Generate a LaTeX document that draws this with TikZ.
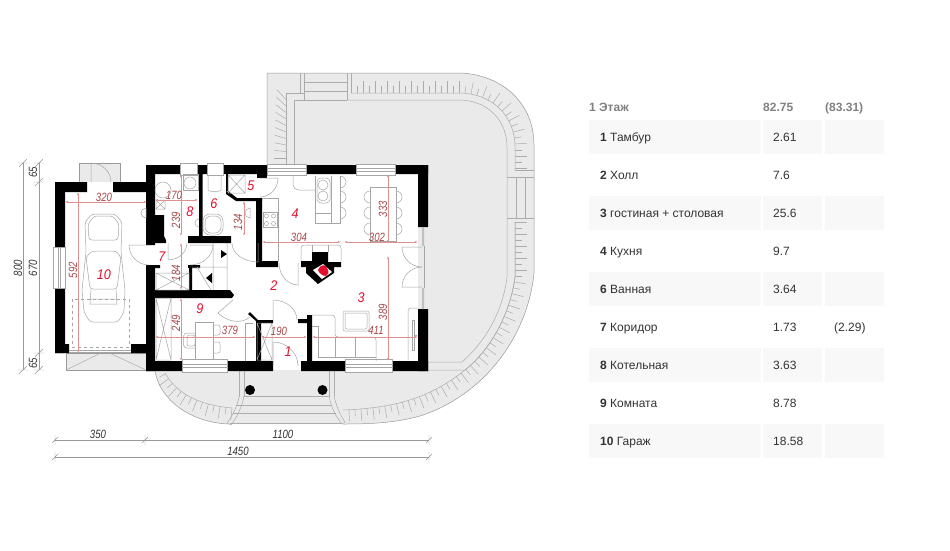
\documentclass[tikz,border=0pt]{standalone}
\usepackage{fontspec}
\setmainfont{Liberation Sans}
\usetikzlibrary{calc,arrows.meta,decorations.markings}
\definecolor{terracegray}{HTML}{EAEAEA}
\definecolor{rowgray}{HTML}{F8F8F8}
\definecolor{headgray}{HTML}{808080}
\definecolor{textdark}{HTML}{333333}
\definecolor{roomred}{HTML}{E2102E}
\definecolor{dimred}{HTML}{A84848}
\definecolor{dimline}{HTML}{E09090}
\tikzset{
    wall/.style={fill=black,draw=none},
    terrace/.style={fill=terracegray,draw=gray!80,line width=.5pt},
    stairline/.style={draw=gray!65,line width=.5pt},
    furn/.style={draw=gray!70,line width=.5pt},
    doorline/.style={draw=gray!70,line width=.5pt},
    dimgray/.style={draw=gray!80,line width=.4pt},
    dimredline/.style={draw=dimline,line width=.5pt,{Latex[length=3pt,width=2pt]}-{Latex[length=3pt,width=2pt]}},
    roomnum/.style={font=\fontsize{14}{16}\selectfont\itshape,text=roomred,xscale=.9,inner sep=0pt},
    dimlabel/.style={font=\fontsize{12}{14}\selectfont\itshape,text=dimred,xscale=.8,inner sep=0pt},
    outerlabel/.style={font=\fontsize{12}{14}\selectfont\itshape,text=textdark,xscale=.8,inner sep=0pt},
    rowtext/.style={font=\fontsize{12}{14}\selectfont,text=textdark,anchor=base west,inner sep=0pt},
    headtext/.style={font=\fontsize{12}{14}\selectfont\bfseries,text=headgray,anchor=base west,inner sep=0pt},
    rowbox/.style={fill=rowgray,draw=none},
    treads/.style={postaction={decorate},decoration={markings,
        mark=between positions 0 and 1 step 6pt with {
            \pgfmathsetmacro\treadlen{isodd(\pgfkeysvalueof{/pgf/decoration/mark info/sequence number})?12:7}
            \draw[stairline] (0pt,0pt)--(0pt,\treadlen pt);}}},
}
% door: hinge, open end, closed end
\newcommand{\door}[3]{\draw[doorline] (#1)--(#2) .. controls ($(#2)+.55*(#3)-.55*(#1)$) and ($(#3)+.55*(#2)-.55*(#1)$) .. (#3);}
\begin{document}
\begin{tikzpicture}[x=1pt,y=-1pt]
    \useasboundingbox (0,0) rectangle (950,550);
    % terrace
    \fill[terracegray] (267,73)--(462,73) .. controls (505,76) and (534,105) .. (534,145)--(534,273)
        .. controls (528,335) and (485,395) .. (420,416) .. controls (395,423) and (370,424) .. (343,424)
        --(228,424) .. controls (190,422) and (160,400) .. (155,371)--(155,300)--(267,300)--cycle;
    \draw[terrace,fill=none] (267,165)--(267,73)--(462,73) .. controls (505,76) and (534,105) .. (534,145)--(534,273)
        .. controls (528,335) and (485,395) .. (420,416) .. controls (395,423) and (370,424) .. (343,424);
    \draw[terrace,fill=none] (155,371) .. controls (160,400) and (190,422) .. (228,424);
    \draw[stairline] (294,165)--(294,100)--(347,100);
    \draw[stairline] (286,165)--(286,93)--(304,93);
    \draw[stairline] (300,73)--(300,93) (304,73)--(304,100) (347,73)--(347,100) (351,73)--(351,93);
    \draw[stairline] (304,82)--(347,82) (304,91)--(347,91);
    \draw[stairline] (347,100)--(462,100) .. controls (490,102) and (507,122) .. (507,147)--(507,277)
        .. controls (503,310) and (487,340) .. (462,362)--(428,362);
    \draw[stairline] (428,370)--(465,370) .. controls (490,350) and (510,315) .. (515,277)--(515,222);
    \draw[stairline] (507,177)--(534,177) (507,218)--(534,218) (516.5,177)--(516.5,218) (525.5,177)--(525.5,218);
    \draw[stairline] (515,170)--(534,170);
    \draw[stairline,treads] (351,93)--(462,93) .. controls (495,95) and (515,118) .. (515,147)--(515,170);
    \draw[stairline,treads] (515,222)--(515,277) .. controls (510,315) and (490,350) .. (465,370)
        .. controls (430,398) and (395,408) .. (343,410);
    \draw[stairline,treads] (232,408) .. controls (200,405) and (178,395) .. (165,373);
    \foreach \i in {0,...,9}
        \draw[stairline] (286,{158-6.5*\i})--({286-12+\i*.3},{158-6.5*\i-\i*1.1});
    % front steps
    \draw[stairline] (239,371)--(239,397) (244,371)--(244,396) (329,371)--(329,397) (334,371)--(334,396);
    \draw[stairline] (244,396)--(329,396) (236,405)--(332,405) (233,413)--(336,413) (230,423)--(341,423);
    \draw[stairline] (239,397) .. controls (237,407) and (232,417) .. (227,423)--(231,425) .. controls (237,417) and (242,407) .. (244,396);
    \draw[stairline] (329,396) .. controls (331,407) and (336,417) .. (342,424)--(345,422) .. controls (340,415) and (336,405) .. (334,396);
    \fill[black] (250,390) circle (5pt) (322.5,390) circle (5pt);
    % garage porch and entry
    \filldraw[terrace] (66,353) rectangle (146,370);
    \draw[stairline] (66,370)--(105,351)--(146,370);
    \filldraw[terrace] (79,163) rectangle (120,182);
    % house floor
    \fill[white] (65,192) rectangle (146,352);
    \fill[white] (155,174) rectangle (418,361);
    \fill[white] (273,355) rectangle (301,370);
    \fill[white] (87,182) rectangle (113,192);
    % walls
    \fill[wall] (55,182) rectangle (87,192) (113,182) rectangle (146,192);
    \fill[wall] (55,182) rectangle (65,248) (55,287) rectangle (65,353);
    \fill[wall] (55,344) rectangle (69,353) (131,344) rectangle (146,353);
    \fill[wall] (146,165) rectangle (155,245) (146,265) rectangle (155,371);
    \fill[wall] (146,165) rectangle (180,174) (197,165) rectangle (207,174) (223,165) rectangle (267,174);
    \fill[wall] (306,165) rectangle (356,174) (395,165) rectangle (428,174);
    \fill[wall] (418,165) rectangle (428,227) (418,309) rectangle (428,371);
    \fill[wall] (146,361) rectangle (182,371) (227,361) rectangle (273,371) (301,361) rectangle (345,371) (392,361) rectangle (428,371);
    \fill[wall] (199,174) rectangle (202.5,236) (188,236) rectangle (231,243);
    \fill[wall] (155,215) -- (164,215) -- (164,236) -- (166,240) -- (166,243) -- (155,243) -- cycle;
    \fill[wall] (155,290) -- (230,290) -- (234,295) -- (232,298) -- (155,298) -- cycle;
    \fill[wall] (188,265) rectangle (200,268) (189,265) rectangle (192,290) (155,265) rectangle (160,268);
    \fill[wall] (226,174) rectangle (228,192) (226,192) -- (228,191) -- (237,198) -- (262,198) -- (262,201) -- (236,201) -- (226,194) -- cycle;
    \fill[wall] (257,173) rectangle (267,178);
    \fill[wall] (256,198) rectangle (262,266) (256,261) rectangle (278,267);
    \fill[wall] (248,314) -- (250,312) -- (258,320) -- (273,320) -- (273,323) -- (261,323) -- (261,361) -- (256,361) -- (256,321) -- cycle;
    \fill[wall] (307,315) rectangle (312,361) (298,319) rectangle (307,323);
    % fireplace
    \fill[wall] (312,252)--(328,252)--(328,262)--(341,262)--(341,267)--(334,267)--(334,273)--(318,284)--(306,273)--(306,267)--(301,267)--(301,261)--(312,261)--cycle;
    \fill[white] (313,270)--(323,264)--(332,272)--(322,279)--cycle;
    \fill[roomred] (318,270) .. controls (320,264) and (326,264) .. (327,268) .. controls (330,272) and (328,275) .. (326,276) .. controls (322,276) and (319,273) .. (318,270) -- cycle;
    % windows
    \foreach \xa/\xb in {267/306,356/395} {
        \fill[white] (\xa,164) rectangle (\xb,175);
        \draw[furn] (\xa,164) rectangle (\xb,175);
        \draw[furn] (\xa,168) -- (\xb,168) (\xa,171) -- (\xb,171);
    }
    \foreach \xa/\xb in {182/227,345/392} {
        \fill[white] (\xa,359) rectangle (\xb,372);
        \draw[furn] (\xa,359) rectangle (\xb,372) (\xa,364)--(\xb,364) (\xa,367)--(\xb,367);
    }
    \fill[white] (180,164) rectangle (197,175) (207,164) rectangle (223,175);
    \draw[furn] (180,163) rectangle (197,175) (207,163) rectangle (223,175);
    \fill[white] (53,247) rectangle (65,288);
    \draw[furn] (53,247) rectangle (65,288) (58,247)--(58,288) (60,247)--(60,288);
    \draw[furn] (69,350)--(131,350) (69,352)--(131,352);
    \fill[gray!50] (422,227) rectangle (424,246) (422,288) rectangle (424,309);
    \draw[furn] (424,246)--(424,288);
    % doors
    \door{91,182}{91,163}{111,182}
    \door{149,245}{129,245}{149,265}
    \door{168,243}{168,260}{187,243}
    \door{190,245}{213,245}{190,265}
    \door{233,300}{218,313}{250,317}
    \door{258,243}{258,262}{232,243}
    \door{260,178}{278,178}{260,197}
    \door{298,263}{298,285}{279,263}
    \door{273,320}{273,300}{297,320}
    \door{273,366}{273,342}{298,366}
    \door{422,247}{402,247}{422,267}
    \door{422,287}{402,287}{422,267}
    % closets and stairs
    \foreach \xa/\ya/\xb/\yb in {156/273/189/290,156/298/171/360,257/323/272/360,228/175/245/193,156/200/165/209} {
        \draw[furn] (\xa,\ya) rectangle (\xb,\yb) (\xa,\ya)--(\xb,\yb) (\xa,\yb)--(\xb,\ya);
    }
    \draw[furn] (213,243)--(213,290) (227,243)--(227,290) (192,267)--(227,267) (197,267)--(211,290);
    \fill[black] (221,250)--(227,254)--(221,258)--cycle (212,273)--(206,278)--(212,283)--cycle;
    % bath
    \draw[furn] (183,174) rectangle (198,190);
    \draw[furn] (190,183) circle (6pt);
    \draw[furn] (163,190) circle (8pt);
    \draw[furn,rounded corners=5pt] (208,175)--(208,185) .. controls (208,192) and (221,192) .. (221,185)--(221,175);
    \draw[furn,rounded corners=7pt] (203,214) rectangle (223,235);
    \draw[furn,rounded corners=6pt] (205,216) rectangle (221,233);
    \draw[furn] (199,219) arc[start angle=90,end angle=270,radius=4pt];
    \draw[furn] (146,208) arc[start angle=90,end angle=270,radius=5pt] -- cycle;
    \draw[furn] (250,208) arc[start angle=90,end angle=270,radius=5pt] -- cycle;
    % kitchen
    \draw[furn] (278,198)--(278,261) (262,198)--(278,198) (263,212) rectangle (277,227);
    \foreach \xa in {266.5,273.5} \foreach \ya in {216,223.5} \draw[furn] (\xa,\ya) circle (2pt);
    \draw[furn] (293,176)--(293,185) .. controls (293,188) and (296,190) .. (299,190)--(315,190);
    \draw[furn] (315,176)--(315,223)--(340,223)--(340,176) (331,176)--(331,223) (315,213)--(331,213);
    \draw[furn,rounded corners=4pt] (317,178) rectangle (330,203);
    \draw[furn] (323,185) circle (5pt) (323,196) circle (5pt);
    \foreach \ya in {182,197,213} \draw[furn] (340,\ya-6) arc[start angle=90,end angle=-90,radius=6pt];
    % dining
    \draw[furn] (370,187) rectangle (396,241);
    \foreach \ya in {197,213,229} {
        \draw[furn] (370,\ya-6) arc[start angle=90,end angle=270,radius=6pt];
        \draw[furn] (396,\ya-6) arc[start angle=90,end angle=-90,radius=6pt];
    }
    % living
    \draw[furn,rounded corners=3pt] (301,261)--(301,245)--(341,245)--(341,261);
    \draw[furn] (312,245)--(312,252) (328,245)--(328,252);
    \draw[furn,rounded corners=2pt] (343,311) rectangle (369,331);
    \draw[furn,rounded corners=2pt] (345,313) rectangle (367,329);
    \draw[furn,rounded corners=3pt] (312,315)--(335,315)--(335,337)--(376,337)--(376,361);
    \draw[furn] (312,326)--(318,326)--(318,357)--(376,357) (335,337)--(335,357) (355,337)--(355,357);
    \draw[furn,rounded corners=3pt] (418,308)--(408,308)--(408,360);
    \draw[furn] (412,320) rectangle (414,350) (414,335) -- (417,335);
    % room 9
    \draw[furn] (195,322) rectangle (213,359) (182,359)--(227,359);
    \draw[furn,rounded corners=3pt] (195,333)--(184,333)--(183,341)--(184,348)--(195,348);
    \draw[furn,rounded corners=2pt] (187,335) rectangle (195,346);
    \draw[furn,rounded corners=2pt] (213,325)--(220,325)--(220,335)--(213,335) (213,342)--(220,342)--(220,353)--(213,353);
    \draw[furn] (245,361)--(245,323)--(253,323);
    % car
    \draw[furn,dashed] (72,299) rectangle (129,347);
    \draw[furn,rounded corners=3pt] (92,214)--(115,214)--(122,222)--(121,252)--(125,290)--(124,312)--(118,322)--(90,322)--(84,312)--(82,290)--(86,252)--(85,222)--cycle;
    \draw[furn,rounded corners=3pt] (94,216)--(113,216)--(119,224)--(118,240)--(89,240)--(88,224)--cycle;
    \draw[furn,rounded corners=3pt] (86,257)--(92,251)--(116,251)--(121,257)--(117,289)--(90,289)--cycle;
    \draw[furn] (91,289)--(90,304)--(117,304)--(116,289) (90,299)--(117,299);
    % outer dimensions
    \coordinate (la) at (23,163); \coordinate (lb) at (23,370);
    \coordinate (ma) at (39,163); \coordinate (mb) at (39,370);
    \draw[dimgray] (la)--(lb) (ma)--(mb);
    \foreach \ya in {163,370} \draw[dimgray] (18,\ya)--(28,\ya) (19,\ya+4)--(27,\ya-4);
    \foreach \ya in {163,182,353,370} \draw[dimgray] (34,\ya)--(44,\ya) (35,\ya+4)--(43,\ya-4);
    \coordinate (ba) at (55,440); \coordinate (bb) at (145,440); \coordinate (bc) at (429,440);
    \coordinate (ca) at (55,457); \coordinate (cb) at (429,457);
    \draw[dimgray] (ba)--(bc) (ca)--(cb);
    \foreach \xa/\ya in {55/440,145/440,429/440,55/457,429/457} \draw[dimgray] (\xa,\ya-5)--(\xa,\ya+5) (\xa-3,\ya+3)--(\xa+3,\ya-3);
    \node[rotate=90,outerlabel] (dimtotal) at (18,268) {800};
    \node[rotate=90,outerlabel] (dimmid) at (33,268) {670};
    \node[rotate=90,outerlabel] (dimtop) at (33,172) {65};
    \node[rotate=90,outerlabel] (dimbot) at (33,363) {65};
    \node[outerlabel] (dimgar) at (98,434) {350};
    \node[outerlabel] (dimhouse) at (283,434) {1100};
    \node[outerlabel] (dimall) at (238,451) {1450};
    % red dimensions
    \draw[dimredline] (65,202)--(147,202);
    \draw[dimredline] (78,192)--(78,353);
    \draw[dimredline] (155,200)--(198,200);
    \draw[dimredline] (181,174)--(181,236);
    \draw[dimredline] (181,243)--(181,290);
    \draw[dimredline] (181,298)--(181,361);
    \draw[dimredline] (244,201)--(244,236);
    \draw[dimredline] (155,337)--(256,337);
    \draw[dimredline] (261,337)--(307,337);
    \draw[dimredline] (312,337)--(418,337);
    \draw[dimredline] (388,174)--(388,243);
    \draw[dimredline] (388,256)--(388,361);
    \draw[dimredline] (262,242)--(341,242);
    \draw[dimredline] (344,242)--(418,242);
    \foreach \name/\xa/\ya/\txt in {dgar/104/197/320,dsmall/174/195/170,dstair/230/330/379,dtam/279/331/190,dliv/376/330/411,dkit/299/237/304,ddin/377/237/302}
        \node[dimlabel] (\name) at (\xa,\ya) {\txt};
    \foreach \name/\xa/\ya/\txt in {dcar/73/270/592,dboil/176/220/239,dcor/176/273/184,droom/176/323/249,dbath/238/222/134,dlivv/383/312/389,dkitv/383/209/333}
        \node[rotate=90,dimlabel] (\name) at (\xa,\ya) {\txt};
    % room numbers
    \foreach \num/\xa/\ya in {1/288/352,2/274/286,3/361/298,4/295/214,5/251/186,6/214/204,7/162/257,8/190/212,9/200/309,10/104/275}
        \node[roomnum] (room\num) at (\xa,\ya) {\num};
    % table
    \node[headtext] (headname) at (589,111) {1 Этаж};
    \node[headtext] (headarea) at (763,111) {82.75};
    \node[headtext] (headfull) at (825,111) {(83.31)};
    \foreach \ya in {120,196,272,348,424} {
        \fill[rowbox] (589,\ya) rectangle (761,\ya+34);
        \fill[rowbox] (763,\ya) rectangle (822,\ya+34);
        \fill[rowbox] (825,\ya) rectangle (884,\ya+34);
    }
    \foreach \ya/\num/\txt/\val [count=\k] in {141/1/Тамбур/2.61,179/2/Холл/7.6,217/3/гостиная + столовая/25.6,255/4/Кухня/9.7,293/6/Ванная/3.64,331/7/Коридор/1.73,369/8/Котельная/3.63,407/9/Комната/8.78,445/10/Гараж/18.58} {
        \node[rowtext] (rowname\k) at (600,\ya) {\textbf{\num} \txt};
        \node[rowtext] (rowval\k) at (773,\ya) {\val};
    }
    \node[rowtext] (rowextra) at (834,331) {(2.29)};
\end{tikzpicture}
\end{document}
